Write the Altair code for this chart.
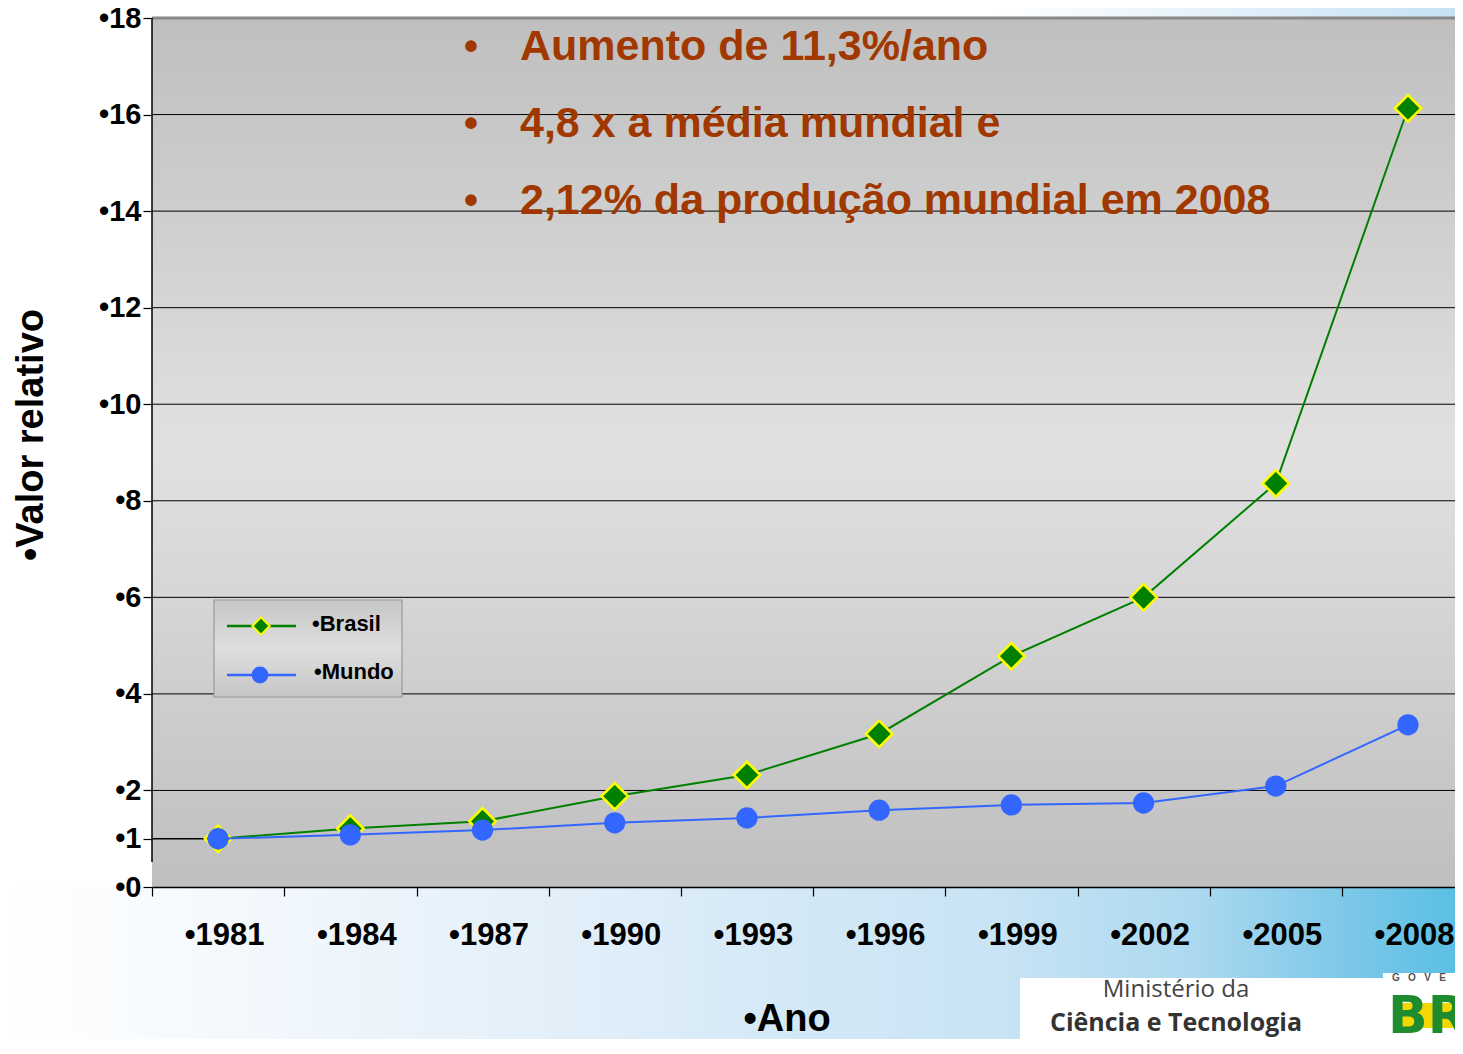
import altair as alt
import pandas as pd

# ---------------- data ----------------
YEARS = [1981, 1984, 1987, 1990, 1993, 1996, 1999, 2002, 2005, 2008]
BRASIL = [1.0, 1.21, 1.36, 1.88, 2.32, 3.17, 4.78, 6.0, 8.36, 16.13]
MUNDO = [1.0, 1.08, 1.18, 1.33, 1.43, 1.59, 1.70, 1.74, 2.09, 3.36]
Y_TICKS = [0, 1, 2, 4, 6, 8, 10, 12, 14, 16, 18]
GRID_LINES = [2, 4, 6, 8, 10, 12, 14, 16]
SERIES = ["•Brasil", "•Mundo"]
ANNOTATIONS = [
    "Aumento de 11,3%/ano",
    "4,8 x a média mundial e",
    "2,12% da produção mundial em 2008",
]
X_TITLE = "•Ano"
Y_TITLE = "•Valor relativo"
LOGO_LINE1 = "Ministério da"
LOGO_LINE2 = "Ciência e Tecnologia"
LOGO_TOP = "\u00a0\u00a0\u00a0".join("GOVE")

# ---------------- styling ----------------
W, H = 1303, 869
PX_PER_YEAR = 44.07
FONT = "Liberation Sans"
GREEN = "#008000"
BLUE = "#3366ff"
BROWN = "#a03800"


def grad(stops, horizontal=True):
    return alt.LinearGradient(
        gradient="linear",
        stops=[alt.GradientStop(offset=o, color=c) for o, c in stops],
        x1=0, y1=0,
        x2=1 if horizontal else 0,
        y2=0 if horizontal else 1,
    )


def one():
    return alt.Data(values=[{"k": 0}])


brasil_df = pd.DataFrame({"year": YEARS, "value": BRASIL})
mundo_df = pd.DataFrame({"year": YEARS, "value": MUNDO})
grid_df = pd.DataFrame({"value": GRID_LINES})

x_scale = alt.Scale(domain=[1979.5, 1979.5 + W / PX_PER_YEAR], nice=False, zero=False)
y_scale = alt.Scale(domain=[0, 18], nice=False, zero=True)

x_axis = alt.Axis(
    values=YEARS, labelExpr="'•' + datum.value", title=None, grid=False,
    domain=True, domainColor="black", domainWidth=1.5,
    ticks=True, tickSize=9, tickColor="black", tickWidth=1.2,
    tickOffset=-66, labelOffset=72,
    labelFont=FONT, labelFontSize=31, labelFontWeight="bold", labelColor="black",
    labelPadding=24, labelFlush=False, labelOverlap=False, zindex=1,
)
y_axis = alt.Axis(
    values=Y_TICKS, labelExpr="'•' + datum.value", title=None, grid=False,
    domain=False, ticks=True, tickSize=9, tickColor="black", tickWidth=1.2,
    labelFont=FONT, labelFontSize=29, labelFontWeight="bold", labelColor="black",
    labelPadding=2, labelOverlap=False, zindex=1,
)
X = alt.X("year:Q", scale=x_scale, axis=x_axis)
Y = alt.Y("value:Q", scale=y_scale, axis=y_axis)

layers = []

# page background bands
layers.append(
    alt.Chart(one()).mark_rect(fill=grad([
        (0.0, "#ffffff"), (0.14, "#f5f9fd"), (0.41, "#e0eef9"), (0.55, "#d3e8f6"),
        (0.68, "#c9e4f5"), (0.82, "#acd9f0"), (0.9, "#88cbea"), (1.0, "#5bbfe4")]))
    .encode(x=alt.value(-144), x2=alt.value(W), y=alt.value(H), y2=alt.value(H + 160))
)
layers.append(
    alt.Chart(one()).mark_rect(fill=grad([
        (0.0, "#ffffff"), (0.68, "#ffffff"), (0.78, "#eef6fc"), (1.0, "#c6e2f4")]))
    .encode(x=alt.value(-144), x2=alt.value(W), y=alt.value(-10), y2=alt.value(0))
)
# plot background
layers.append(
    alt.Chart(one()).mark_rect(fill=grad([
        (0.0, "#bfbfbf"), (0.5, "#e1e1e1"), (1.0, "#bfbfbf")], horizontal=False))
    .encode(x=alt.value(0), x2=alt.value(W), y=alt.value(0), y2=alt.value(H))
)
# gridlines
layers.append(
    alt.Chart(grid_df).mark_rule(color="black", strokeWidth=1)
    .encode(y=Y, x=alt.value(0), x2=alt.value(W))
)
layers.append(
    alt.Chart(pd.DataFrame({"value": [18]})).mark_rule(color="#888888", strokeWidth=3)
    .encode(y=Y, x=alt.value(0), x2=alt.value(W))
)
layers.append(
    alt.Chart(pd.DataFrame({"value": [1]})).mark_rule(color="black", strokeWidth=1.5)
    .encode(y=Y, x=alt.value(0), x2=alt.value(56))
)
# y axis line
layers.append(
    alt.Chart(pd.DataFrame({"value": [18], "value2": [0.52]})).mark_rule(color="black", strokeWidth=1.5)
    .encode(y=Y, y2="value2:Q", x=alt.value(0))
)

# series
layers.append(alt.Chart(brasil_df).mark_line(color=GREEN, strokeWidth=2).encode(x=X, y=Y))
layers.append(
    alt.Chart(brasil_df).mark_point(shape="diamond", filled=True, fill=GREEN, stroke="#ffff00",
                                    strokeWidth=2.5, size=700, opacity=1)
    .encode(x=X, y=Y)
)
layers.append(alt.Chart(mundo_df).mark_line(color=BLUE, strokeWidth=2).encode(x=X, y=Y))
layers.append(
    alt.Chart(mundo_df).mark_point(shape="circle", filled=True, fill=BLUE, size=452, opacity=1)
    .encode(x=X, y=Y)
)

# annotations
for i, line in enumerate(ANNOTATIONS):
    base = 42 + 77 * i
    layers.append(
        alt.Chart(alt.Data(values=[{"t": "•"}])).mark_text(
            font=FONT, fontSize=40, fontWeight="bold", color=BROWN, align="center", baseline="alphabetic")
        .encode(text="t:N", x=alt.value(319), y=alt.value(base))
    )
    layers.append(
        alt.Chart(alt.Data(values=[{"t": line}])).mark_text(
            font=FONT, fontSize=43, fontWeight="bold", color=BROWN, align="left", baseline="alphabetic")
        .encode(text="t:N", x=alt.value(368), y=alt.value(base))
    )

# legend
layers.append(
    alt.Chart(one()).mark_rect(fill=grad([
        (0.0, "#c6c6c6"), (0.5, "#dedede"), (1.0, "#c6c6c6")], horizontal=False),
        stroke="#999999", strokeWidth=1.2)
    .encode(x=alt.value(62), x2=alt.value(250), y=alt.value(582), y2=alt.value(679))
)
layers.append(
    alt.Chart(one()).mark_rule(color=GREEN, strokeWidth=2.5)
    .encode(x=alt.value(75), x2=alt.value(144), y=alt.value(608))
)
layers.append(
    alt.Chart(one()).mark_point(shape="diamond", filled=True, fill=GREEN, stroke="#ffff00",
                                strokeWidth=2, size=300, opacity=1)
    .encode(x=alt.value(109), y=alt.value(608))
)
layers.append(
    alt.Chart(one()).mark_rule(color=BLUE, strokeWidth=2.5)
    .encode(x=alt.value(75), x2=alt.value(144), y=alt.value(657))
)
layers.append(
    alt.Chart(one()).mark_point(shape="circle", filled=True, fill=BLUE, size=283, opacity=1)
    .encode(x=alt.value(108), y=alt.value(657))
)
for label, xx, yy in [(SERIES[0], 160, 606), (SERIES[1], 162, 654)]:
    layers.append(
        alt.Chart(alt.Data(values=[{"t": label}])).mark_text(
            font=FONT, fontSize=22, fontWeight="bold", color="black", align="left", baseline="middle")
        .encode(text="t:N", x=alt.value(xx), y=alt.value(yy))
    )

# axis titles
layers.append(
    alt.Chart(alt.Data(values=[{"t": Y_TITLE}])).mark_text(
        font=FONT, fontSize=38, fontWeight="bold", color="black", align="center",
        baseline="alphabetic", angle=270)
    .encode(text="t:N", x=alt.value(-109), y=alt.value(417))
)
layers.append(
    alt.Chart(alt.Data(values=[{"t": X_TITLE}])).mark_text(
        font=FONT, fontSize=38, fontWeight="bold", color="black", align="center", baseline="alphabetic")
    .encode(text="t:N", x=alt.value(635), y=alt.value(1013))
)

# ministry logo
layers.append(
    alt.Chart(one()).mark_rect(fill="white")
    .encode(x=alt.value(868), x2=alt.value(1231), y=alt.value(960), y2=alt.value(1040))
)
layers.append(
    alt.Chart(alt.Data(values=[{"t": LOGO_LINE1}])).mark_text(
        font="Open Sans", fontSize=24, color="#444444", align="center", baseline="alphabetic")
    .encode(text="t:N", x=alt.value(1024), y=alt.value(979))
)
layers.append(
    alt.Chart(alt.Data(values=[{"t": LOGO_LINE2}])).mark_text(
        font="Open Sans", fontSize=25, fontWeight="bold", color="#333333", align="center",
        baseline="alphabetic")
    .encode(text="t:N", x=alt.value(1024), y=alt.value(1013))
)
layers.append(
    alt.Chart(one()).mark_rect(fill="white")
    .encode(x=alt.value(1231), x2=alt.value(W), y=alt.value(955), y2=alt.value(1040))
)
layers.append(
    alt.Chart(one()).mark_rect(fill="#f2d800")
    .encode(x=alt.value(1244), x2=alt.value(W), y=alt.value(985), y2=alt.value(1010))
)
layers.append(
    alt.Chart(alt.Data(values=[{"t": "BR"}])).mark_text(
        font="DejaVu Sans", fontSize=52, fontWeight="bold", color="#1e8c2e", align="left",
        baseline="alphabetic")
    .encode(text="t:N", x=alt.value(1236), y=alt.value(1015))
)
layers.append(
    alt.Chart(alt.Data(values=[{"t": LOGO_TOP}])).mark_text(
        font=FONT, fontSize=10, fontWeight="bold", color="#555555", align="left", baseline="alphabetic")
    .encode(text="t:N", x=alt.value(1240), y=alt.value(963))
)

chart = (
    alt.layer(*layers)
    .properties(
        width=W, height=H,
        autosize=alt.AutoSizeParams(type="none"),
        padding={"left": 144, "top": 10, "right": 0, "bottom": 152},
    )
    .configure_view(stroke=None)
)

chart.save("out.html", embed_options={"renderer": "svg", "actions": False})
